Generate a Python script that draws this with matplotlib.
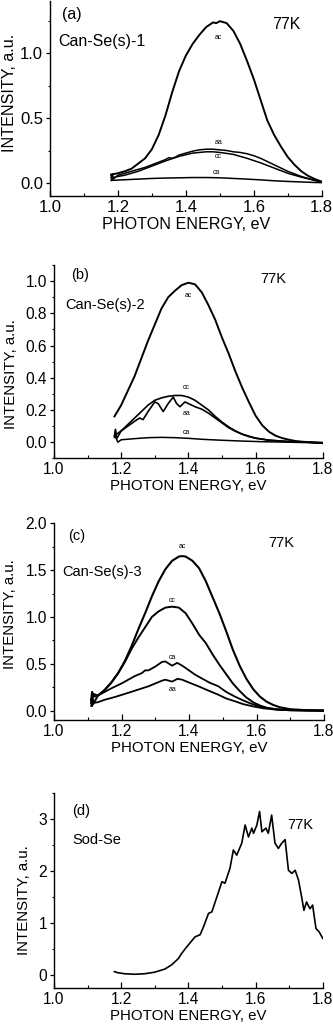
import matplotlib
matplotlib.use("Agg")
import matplotlib.pyplot as plt
from matplotlib.ticker import MultipleLocator

plt.rcParams['font.family'] = ['Liberation Sans', 'DejaVu Sans']

# ---------------- Panel (a) data ----------------
a_ac_x = [1.18, 1.20, 1.22, 1.24, 1.26, 1.28, 1.30, 1.32, 1.34, 1.36, 1.38, 1.40, 1.42, 1.44, 1.46,
          1.48, 1.49, 1.50, 1.52, 1.54, 1.56, 1.58, 1.60, 1.62, 1.64, 1.66, 1.68, 1.70, 1.72, 1.74,
          1.76, 1.78, 1.80]
a_ac_y = [0.065, 0.075, 0.09, 0.11, 0.15, 0.19, 0.26, 0.37, 0.52, 0.70, 0.86, 0.98, 1.07, 1.14, 1.20,
          1.235, 1.23, 1.245, 1.23, 1.17, 1.07, 0.94, 0.80, 0.64, 0.48, 0.37, 0.28, 0.20, 0.14, 0.09,
          0.055, 0.03, 0.01]
a_aa_x = [1.180, 1.182, 1.184, 1.186, 1.20, 1.22, 1.24, 1.26, 1.28, 1.30, 1.32, 1.34, 1.35, 1.36, 1.37,
          1.38, 1.40, 1.42, 1.44, 1.46, 1.48, 1.50, 1.52, 1.54, 1.56, 1.58, 1.60, 1.62, 1.64, 1.66,
          1.68, 1.70, 1.72, 1.74, 1.76, 1.78, 1.80]
a_aa_y = [0.06, 0.02, 0.07, 0.03, 0.06, 0.075, 0.09, 0.105, 0.12, 0.14, 0.16, 0.18, 0.195, 0.19, 0.20,
          0.215, 0.23, 0.245, 0.255, 0.26, 0.26, 0.255, 0.25, 0.24, 0.235, 0.225, 0.21, 0.19, 0.165, 0.14,
          0.115, 0.09, 0.07, 0.05, 0.035, 0.02, 0.01]
a_cc_x = [1.18, 1.22, 1.26, 1.30, 1.34, 1.38, 1.42, 1.46, 1.48, 1.50, 1.54, 1.58, 1.62, 1.66, 1.70,
          1.74, 1.78, 1.80]
a_cc_y = [0.04, 0.06, 0.09, 0.13, 0.17, 0.205, 0.23, 0.24, 0.24, 0.235, 0.22, 0.19, 0.155, 0.115, 0.075,
          0.045, 0.02, 0.01]
a_ca_x = [1.18, 1.22, 1.26, 1.30, 1.34, 1.38, 1.42, 1.46, 1.50, 1.54, 1.58, 1.62, 1.66, 1.70, 1.74,
          1.78, 1.80]
a_ca_y = [0.02, 0.025, 0.03, 0.035, 0.038, 0.04, 0.042, 0.042, 0.04, 0.035, 0.03, 0.024, 0.017, 0.012,
          0.008, 0.004, 0.003]

# ---------------- Panel (b) data ----------------
b_ac_x = [1.18, 1.20, 1.22, 1.24, 1.26, 1.28, 1.30, 1.32, 1.34, 1.36, 1.38, 1.40, 1.42, 1.44, 1.46,
          1.48, 1.50, 1.52, 1.54, 1.56, 1.58, 1.60, 1.62, 1.64, 1.66, 1.68, 1.70, 1.72, 1.74, 1.76,
          1.78, 1.80]
b_ac_y = [0.16, 0.23, 0.32, 0.41, 0.52, 0.63, 0.73, 0.83, 0.90, 0.94, 0.975, 0.99, 0.98, 0.93, 0.85,
          0.76, 0.65, 0.55, 0.44, 0.34, 0.25, 0.165, 0.105, 0.065, 0.04, 0.025, 0.015, 0.007, 0.003, 0.0,
          -0.004, -0.006]
b_cc_x = [1.18, 1.20, 1.22, 1.24, 1.26, 1.28, 1.30, 1.32, 1.34, 1.36, 1.38, 1.40, 1.42, 1.44, 1.46,
          1.48, 1.50, 1.52, 1.54, 1.56, 1.58, 1.60, 1.64, 1.68, 1.72, 1.76, 1.80]
b_cc_y = [0.04, 0.07, 0.11, 0.15, 0.19, 0.23, 0.26, 0.275, 0.285, 0.29, 0.29, 0.28, 0.26, 0.23, 0.20,
          0.16, 0.125, 0.095, 0.07, 0.05, 0.035, 0.025, 0.013, 0.006, 0.002, 0.0, -0.003]
b_aa_x = [1.180, 1.183, 1.186, 1.20, 1.22, 1.24, 1.255, 1.265, 1.28, 1.30, 1.31, 1.325, 1.34, 1.355,
          1.365, 1.375, 1.39, 1.40, 1.42, 1.44, 1.46, 1.48, 1.50, 1.52, 1.54, 1.56, 1.60, 1.64, 1.70,
          1.76, 1.80]
b_aa_y = [0.03, 0.08, 0.02, 0.07, 0.10, 0.13, 0.15, 0.14, 0.19, 0.25, 0.24, 0.19, 0.24, 0.28,
          0.24, 0.22, 0.25, 0.24, 0.22, 0.205, 0.18, 0.15, 0.12, 0.09, 0.068, 0.05, 0.025, 0.012, 0.004,
          0.0, -0.003]
b_ca_x = [1.180, 1.183, 1.186, 1.19, 1.20, 1.24, 1.28, 1.32, 1.36, 1.40, 1.44, 1.50, 1.56, 1.62, 1.70,
          1.80]
b_ca_y = [0.04, 0.07, 0.02, 0.0, 0.015, 0.022, 0.028, 0.03, 0.028, 0.024, 0.018, 0.012, 0.007, 0.003,
          0.0, -0.005]

# ---------------- Panel (c) data ----------------
c_ac_x = [1.110, 1.113, 1.116, 1.13, 1.15, 1.17, 1.19, 1.21, 1.23, 1.25, 1.27, 1.29, 1.31, 1.33, 1.35,
          1.37, 1.38, 1.39, 1.41, 1.43, 1.45, 1.47, 1.49, 1.51, 1.53, 1.55, 1.57, 1.59, 1.61, 1.63,
          1.65, 1.67, 1.70, 1.75, 1.80]
c_ac_y = [0.11, 0.20, 0.07, 0.16, 0.22, 0.30, 0.40, 0.53, 0.69, 0.87, 1.04, 1.22, 1.38, 1.51, 1.60,
          1.645, 1.65, 1.645, 1.60, 1.52, 1.38, 1.21, 1.04, 0.85, 0.65, 0.48, 0.34, 0.23, 0.15, 0.095,
          0.06, 0.035, 0.015, 0.004, 0.0]
c_cc_x = [1.110, 1.113, 1.116, 1.13, 1.15, 1.17, 1.19, 1.21, 1.23, 1.25, 1.27, 1.29, 1.31, 1.33, 1.35,
          1.37, 1.39, 1.41, 1.43, 1.45, 1.47, 1.49, 1.51, 1.53, 1.55, 1.57, 1.59, 1.61, 1.63, 1.66,
          1.70, 1.80]
c_cc_y = [0.12, 0.05, 0.18, 0.16, 0.22, 0.30, 0.40, 0.52, 0.66, 0.78, 0.89, 1.0, 1.06, 1.10, 1.11,
          1.10, 1.04, 0.93, 0.81, 0.72, 0.60, 0.49, 0.39, 0.29, 0.21, 0.14, 0.09, 0.055, 0.03, 0.012,
          0.004, 0.0]
c_ca_x = [1.110, 1.115, 1.121, 1.14, 1.171, 1.20, 1.22, 1.24, 1.26, 1.27, 1.28, 1.30, 1.32, 1.33, 1.35,
          1.365, 1.38, 1.40, 1.418, 1.44, 1.46, 1.487, 1.51, 1.536, 1.56, 1.58, 1.60, 1.63, 1.66, 1.70,
          1.75, 1.80]
c_ca_y = [0.08, 0.17, 0.15, 0.18, 0.24, 0.29, 0.33, 0.37, 0.40, 0.43, 0.43, 0.47, 0.52, 0.525, 0.48,
          0.51, 0.48, 0.43, 0.384, 0.34, 0.30, 0.26, 0.20, 0.15, 0.11, 0.08, 0.055, 0.03, 0.015, 0.006,
          0.002, 0.0]
c_aa_x = [1.110, 1.112, 1.13, 1.151, 1.18, 1.22, 1.25, 1.28, 1.30, 1.32, 1.33, 1.35, 1.366, 1.38, 1.40,
          1.428, 1.46, 1.487, 1.51, 1.536, 1.56, 1.59, 1.62, 1.66, 1.70, 1.80]
c_aa_y = [0.05, 0.08, 0.09, 0.117, 0.145, 0.19, 0.225, 0.26, 0.29, 0.32, 0.33, 0.31, 0.34, 0.33, 0.30,
          0.26, 0.21, 0.17, 0.13, 0.10, 0.07, 0.045, 0.025, 0.01, 0.004, 0.0]

# ---------------- Panel (d) data ----------------
d_x = [1.18, 1.19, 1.21, 1.24, 1.27, 1.30, 1.33, 1.35, 1.37, 1.38, 1.395, 1.42, 1.435, 1.445, 1.46,
       1.47, 1.485, 1.50, 1.509, 1.524, 1.534, 1.544, 1.559, 1.569, 1.579, 1.589, 1.594, 1.604, 1.612,
       1.619, 1.631, 1.638, 1.648, 1.658, 1.668, 1.678, 1.688, 1.698, 1.708, 1.718, 1.728, 1.738,
       1.744, 1.752, 1.762, 1.77, 1.78, 1.79, 1.80]
d_y = [0.07, 0.05, 0.03, 0.02, 0.03, 0.06, 0.12, 0.20, 0.32, 0.42, 0.545, 0.74, 0.78, 0.93, 1.19,
       1.22, 1.51, 1.80, 1.77, 2.06, 2.41, 2.31, 2.54, 2.89, 2.66, 2.83, 2.73, 2.89, 3.15,
       2.76, 2.83, 2.73, 3.08, 2.54, 2.44, 2.54, 2.61, 2.02, 1.96, 2.02, 1.83, 1.48,
       1.25, 1.41, 1.28, 1.35, 0.90, 0.83, 0.71]

x_ticks = [1.0, 1.2, 1.4, 1.6, 1.8]
x_label = "PHOTON ENERGY, eV"
y_label = "INTENSITY, a.u."

W, H = 333, 1026
fig = plt.figure(figsize=(W / 100, H / 100), dpi=100)


def make_axes(left, right, top, bottom):
    return fig.add_axes([left / W, 1 - bottom / H, (right - left) / W, (bottom - top) / H])


def style(ax, ylim, ymaj, ymin, ylab_x, ylab_y, fs_lab=10.8):
    ax.set_xlim(1.0, 1.8)
    ax.set_ylim(*ylim)
    ax.set_xticks(x_ticks)
    ax.xaxis.set_minor_locator(MultipleLocator(0.1))
    ax.yaxis.set_major_locator(MultipleLocator(ymaj))
    ax.yaxis.set_minor_locator(MultipleLocator(ymin))
    for s in ("top", "right"):
        ax.spines[s].set_visible(False)
    for s in ("left", "bottom"):
        ax.spines[s].set_linewidth(1.0)
    ax.tick_params(axis="x", which="major", direction="in", length=4, width=0.9, pad=3,
                   labelsize=11.2)
    ax.tick_params(axis="x", which="minor", direction="in", length=2, width=0.8)
    ax.tick_params(axis="y", which="major", direction="out", length=3, width=0.9, pad=2,
                   labelsize=11.2)
    ax.tick_params(axis="y", which="minor", direction="out", length=1.5, width=0.8)
    ax.set_xlabel(x_label, fontsize=fs_lab, labelpad=1)
    ax.set_ylabel(y_label, fontsize=fs_lab)
    ax.yaxis.set_label_coords(ylab_x, ylab_y)


def small(ax, x, y, s):
    ax.text(x, y, s, fontsize=5, ha="center", va="center")


# (a)
ax = make_axes(50, 321.7, 1, 196)
ax.plot(a_ac_x, a_ac_y, color="black", lw=1.4)
ax.plot(a_aa_x, a_aa_y, color="black", lw=1.1)
ax.plot(a_cc_x, a_cc_y, color="black", lw=1.1)
ax.plot(a_ca_x, a_ca_y, color="black", lw=1.1)
style(ax, (-0.1, 1.4), 0.5, 0.25, -0.121, 0.53, fs_lab=11.6)
ax.tick_params(axis="both", which="major", labelsize=12)
ax.text(1.035, 1.295, "(a)", fontsize=11.5, ha="left", va="center")
ax.text(1.025, 1.087, "Can-Se(s)-1", fontsize=11.5, ha="left", va="center")
ax.text(1.655, 1.218, "77K", fontsize=11.5, ha="left", va="center")
small(ax, 1.496, 1.12, "ac")
small(ax, 1.496, 0.31, "aa")
small(ax, 1.496, 0.20, "cc")
small(ax, 1.491, 0.077, "ca")

# (b)
ax = make_axes(54, 322.7, 265, 458.3)
ax.plot(b_ac_x, b_ac_y, color="black", lw=1.4)
ax.plot(b_cc_x, b_cc_y, color="black", lw=1.2)
ax.plot(b_aa_x, b_aa_y, color="black", lw=1.2)
ax.plot(b_ca_x, b_ca_y, color="black", lw=1.1)
style(ax, (-0.1, 1.1), 0.2, 0.1, -0.134, 0.436)
ax.text(1.052, 1.035, "(b)", fontsize=10.5, ha="left", va="center")
ax.text(1.033, 0.85, "Can-Se(s)-2", fontsize=10.5, ha="left", va="center")
ax.text(1.613, 1.01, "77K", fontsize=10.5, ha="left", va="center")
small(ax, 1.40, 0.91, "ac")
small(ax, 1.395, 0.34, "cc")
small(ax, 1.395, 0.18, "aa")
small(ax, 1.395, 0.06, "ca")

# (c)
ax = make_axes(54, 324, 523.3, 720)
ax.plot(c_ac_x, c_ac_y, color="black", lw=1.5)
ax.plot(c_cc_x, c_cc_y, color="black", lw=1.4)
ax.plot(c_ca_x, c_ca_y, color="black", lw=1.3)
ax.plot(c_aa_x, c_aa_y, color="black", lw=1.3)
style(ax, (-0.1, 2.0), 0.5, 0.25, -0.137, 0.539)
ax.text(1.041, 1.86, "(c)", fontsize=10.5, ha="left", va="center")
ax.text(1.024, 1.485, "Can-Se(s)-3", fontsize=10.5, ha="left", va="center")
ax.text(1.634, 1.79, "77K", fontsize=10.5, ha="left", va="center")
small(ax, 1.38, 1.75, "ac")
small(ax, 1.35, 1.18, "cc")
small(ax, 1.35, 0.57, "ca")
small(ax, 1.35, 0.23, "aa")

# (d)
ax = make_axes(54, 322.7, 793.3, 988.3)
ax.plot(d_x, d_y, color="black", lw=1.2)
style(ax, (-0.25, 3.5), 1, 0.5, -0.086, 0.453)
ax.text(1.054, 3.15, "(d)", fontsize=10.5, ha="left", va="center")
ax.text(1.054, 2.6, "Sod-Se", fontsize=10.5, ha="left", va="center")
ax.text(1.694, 2.89, "77K", fontsize=10.5, ha="left", va="center")

fig.savefig("out.png", dpi=100, facecolor="white")
